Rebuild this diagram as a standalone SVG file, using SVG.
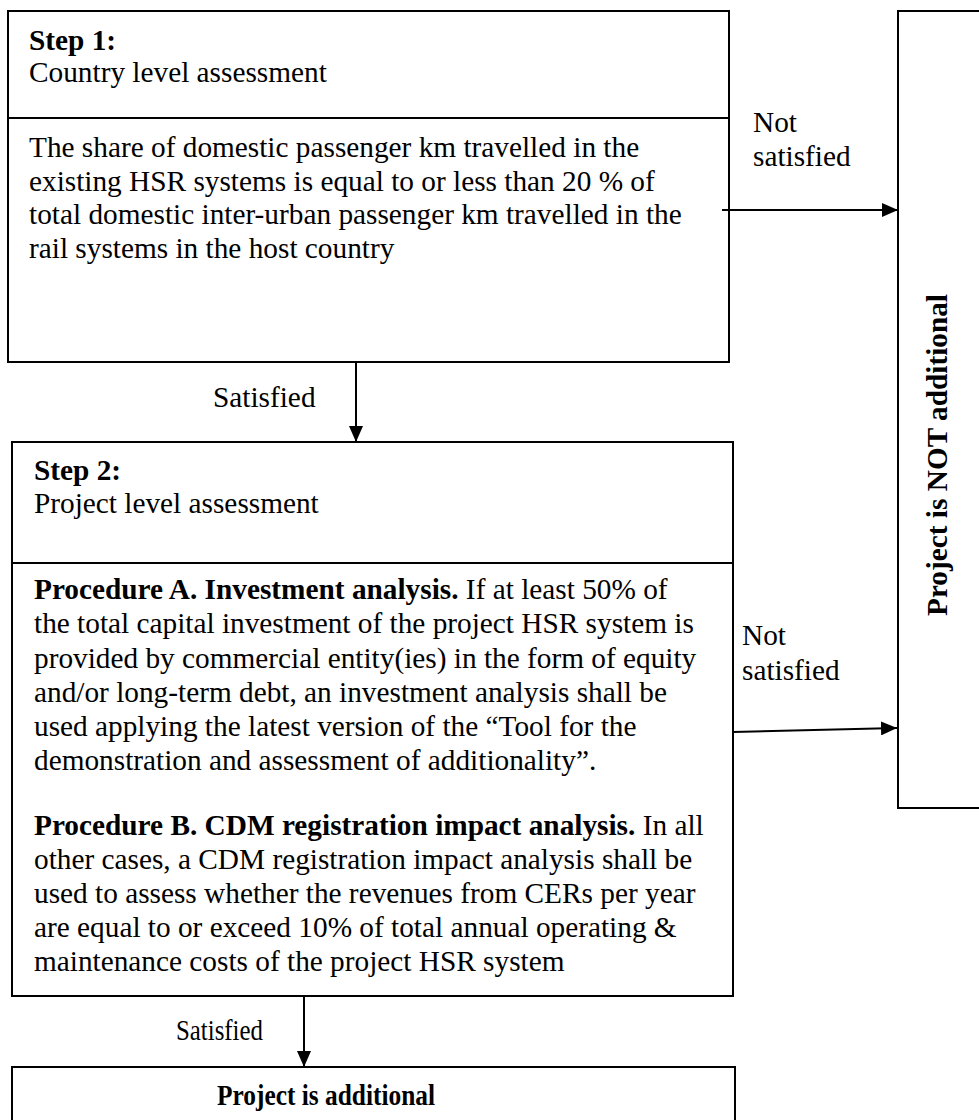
<svg xmlns="http://www.w3.org/2000/svg" width="979" height="1120" viewBox="0 0 979 1120">
<style>
.box{fill:#fff;stroke:#000;stroke-width:2}
.t{font-family:"Liberation Serif","Times New Roman",serif;font-size:29.3px;fill:#000}
.b{font-weight:bold}
.ln{stroke:#000;stroke-width:2;fill:none}
</style>
<defs>
<marker id="ah" markerUnits="userSpaceOnUse" markerWidth="16" markerHeight="14" refX="16" refY="7" orient="auto">
<path d="M0,0 L16,7 L0,14 Z" fill="#000"/>
</marker>
</defs>
<rect width="979" height="1120" fill="#fff"/>
<g id="step1">
<rect class="box" x="8" y="11" width="721" height="351"/>
<line class="ln" x1="8" y1="118" x2="729" y2="118"/>
<text class="t b" x="29" y="50">Step 1:</text>
<text class="t" x="29" y="82">Country level assessment</text>
<text class="t" x="29" y="157">The share of domestic passenger km travelled in the</text>
<text class="t" x="29" y="191">existing HSR systems is equal to or less than 20 % of</text>
<text class="t" x="29" y="224">total domestic inter-urban passenger km travelled in the</text>
<text class="t" x="29" y="258">rail systems in the host country</text>
</g>
<g id="not-additional">
<rect class="box" x="898" y="11" width="100" height="797"/>
<text class="t b" transform="translate(947,455) rotate(-90)" text-anchor="middle">Project is NOT additional</text>
</g>
<g id="step2">
<rect class="box" x="12" y="442" width="721" height="554"/>
<line class="ln" x1="12" y1="563" x2="733" y2="563"/>
<text class="t b" x="34" y="480">Step 2:</text>
<text class="t" x="34" y="513">Project level assessment</text>
<text class="t" x="34" y="599"><tspan class="b">Procedure A. Investment analysis.</tspan> If at least 50% of</text>
<text class="t" x="34" y="633">the total capital investment of the project HSR system is</text>
<text class="t" x="34" y="668">provided by commercial entity(ies) in the form of equity</text>
<text class="t" x="34" y="702">and/or long-term debt, an investment analysis shall be</text>
<text class="t" x="34" y="736">used applying the latest version of the “Tool for the</text>
<text class="t" x="34" y="770">demonstration and assessment of additionality”.</text>
<text class="t" x="34" y="835"><tspan class="b">Procedure B. CDM registration impact analysis.</tspan> In all</text>
<text class="t" x="34" y="869">other cases, a CDM registration impact analysis shall be</text>
<text class="t" x="34" y="903">used to assess whether the revenues from CERs per year</text>
<text class="t" x="34" y="937">are equal to or exceed 10% of total annual operating &amp;</text>
<text class="t" x="34" y="971">maintenance costs of the project HSR system</text>
</g>
<g id="additional">
<rect class="box" x="12" y="1067" width="723" height="80"/>
<text class="t b" x="217" y="1105" textLength="218" lengthAdjust="spacingAndGlyphs">Project is additional</text>
</g>
<g id="connectors">
<line class="ln" x1="722" y1="210" x2="898" y2="210" marker-end="url(#ah)"/>
<text class="t" x="753" y="132">Not</text>
<text class="t" x="753" y="166">satisfied</text>
<line class="ln" x1="356" y1="362" x2="356" y2="442" marker-end="url(#ah)"/>
<text class="t" x="213" y="407">Satisfied</text>
<line class="ln" x1="733" y1="732" x2="897" y2="728" marker-end="url(#ah)"/>
<text class="t" x="742" y="645">Not</text>
<text class="t" x="742" y="680">satisfied</text>
<line class="ln" x1="304" y1="996" x2="304" y2="1067" marker-end="url(#ah)"/>
<text class="t" x="176" y="1040" textLength="87" lengthAdjust="spacingAndGlyphs">Satisfied</text>
</g>
</svg>
